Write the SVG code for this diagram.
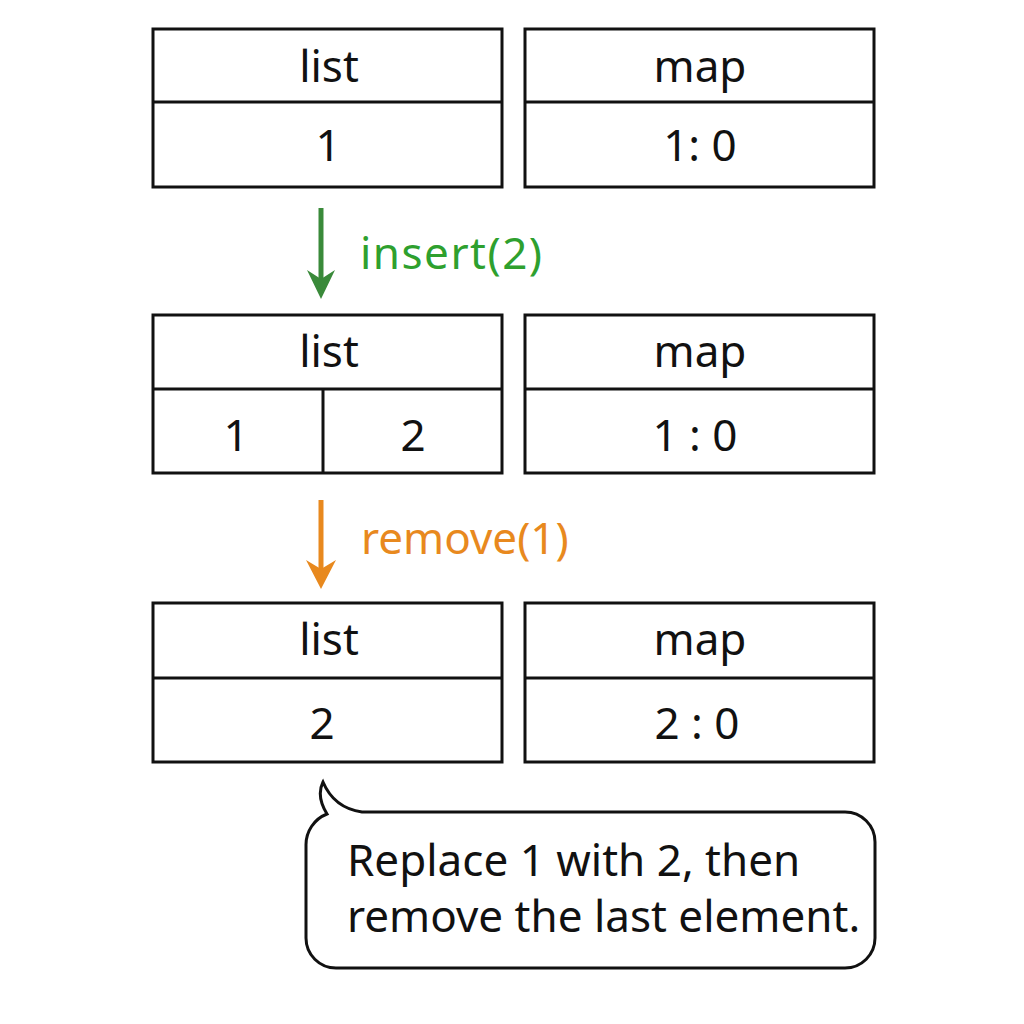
<svg xmlns="http://www.w3.org/2000/svg" width="1024" height="1024" viewBox="0 0 1024 1024">
<style>
.box{fill:#fff;stroke:#111;stroke-width:3}
.ln{stroke:#111;stroke-width:3;fill:none}
.t{font-family:"Noto Sans","Open Sans",sans-serif;font-size:44px;fill:#111;text-anchor:middle}
.lbl{font-family:"Noto Sans","Open Sans",sans-serif;font-size:44px}
.b{font-family:"Noto Sans","Open Sans",sans-serif;font-size:44px;fill:#111}
</style>
<rect width="1024" height="1024" fill="#fff"/>
<g id="list1">
<rect class="box" x="153" y="29" width="349" height="158"/>
<line class="ln" x1="153" y1="102" x2="502" y2="102"/>
<text class="t" x="329" y="82">list</text>
<text class="t" x="328" y="161">1</text>
</g>
<g id="map1">
<rect class="box" x="525" y="29" width="349" height="158"/>
<line class="ln" x1="525" y1="102" x2="874" y2="102"/>
<text class="t" x="700" y="82">map</text>
<text class="t" x="700" y="161">1: 0</text>
</g>
<g id="list2">
<rect class="box" x="153" y="315" width="349" height="158"/>
<line class="ln" x1="153" y1="389" x2="502" y2="389"/>
<line class="ln" x1="323" y1="389" x2="323" y2="473"/>
<text class="t" x="329" y="367">list</text>
<text class="t" x="236" y="451">1</text>
<text class="t" x="413" y="451">2</text>
</g>
<g id="map2">
<rect class="box" x="525" y="315" width="349" height="158"/>
<line class="ln" x1="525" y1="389" x2="874" y2="389"/>
<text class="t" x="700" y="367">map</text>
<text class="t" x="695" y="451">1 :  0</text>
</g>
<g id="list3">
<rect class="box" x="153" y="603" width="349" height="159"/>
<line class="ln" x1="153" y1="678" x2="502" y2="678"/>
<text class="t" x="329" y="655">list</text>
<text class="t" x="322" y="739">2</text>
</g>
<g id="map3">
<rect class="box" x="525" y="603" width="349" height="159"/>
<line class="ln" x1="525" y1="678" x2="874" y2="678"/>
<text class="t" x="700" y="655">map</text>
<text class="t" x="697" y="739">2 : 0</text>
</g>
<g id="connectors">
<line x1="321" y1="208" x2="321" y2="285" stroke="#3a8a3a" stroke-width="5"/>
<path d="M307 270 L321 299 L335 270 L321 279 Z" fill="#3a8a3a"/>
<text class="lbl" x="360" y="269" fill="#2ea02e" letter-spacing="1.5">insert(2)</text>
<line x1="321" y1="500" x2="321" y2="575" stroke="#e8891e" stroke-width="5"/>
<path d="M306 560 L321 589 L336 560 L321 569 Z" fill="#e8891e"/>
<text class="lbl" x="361" y="554" fill="#e8891e">remove(1)</text>
</g>
<g id="note">
<path class="box" d="M306 845 A33 33 0 0 1 327 814 Q316 796 323 782 Q334 808 362 812 L845 812 A30 30 0 0 1 875 842 L875 938 A30 30 0 0 1 845 968 L336 968 A30 30 0 0 1 306 938 Z"/>
<text class="b" x="347" y="876">Replace 1 with 2, then</text>
<text class="b" x="347" y="932">remove the last element.</text>
</g>
</svg>
